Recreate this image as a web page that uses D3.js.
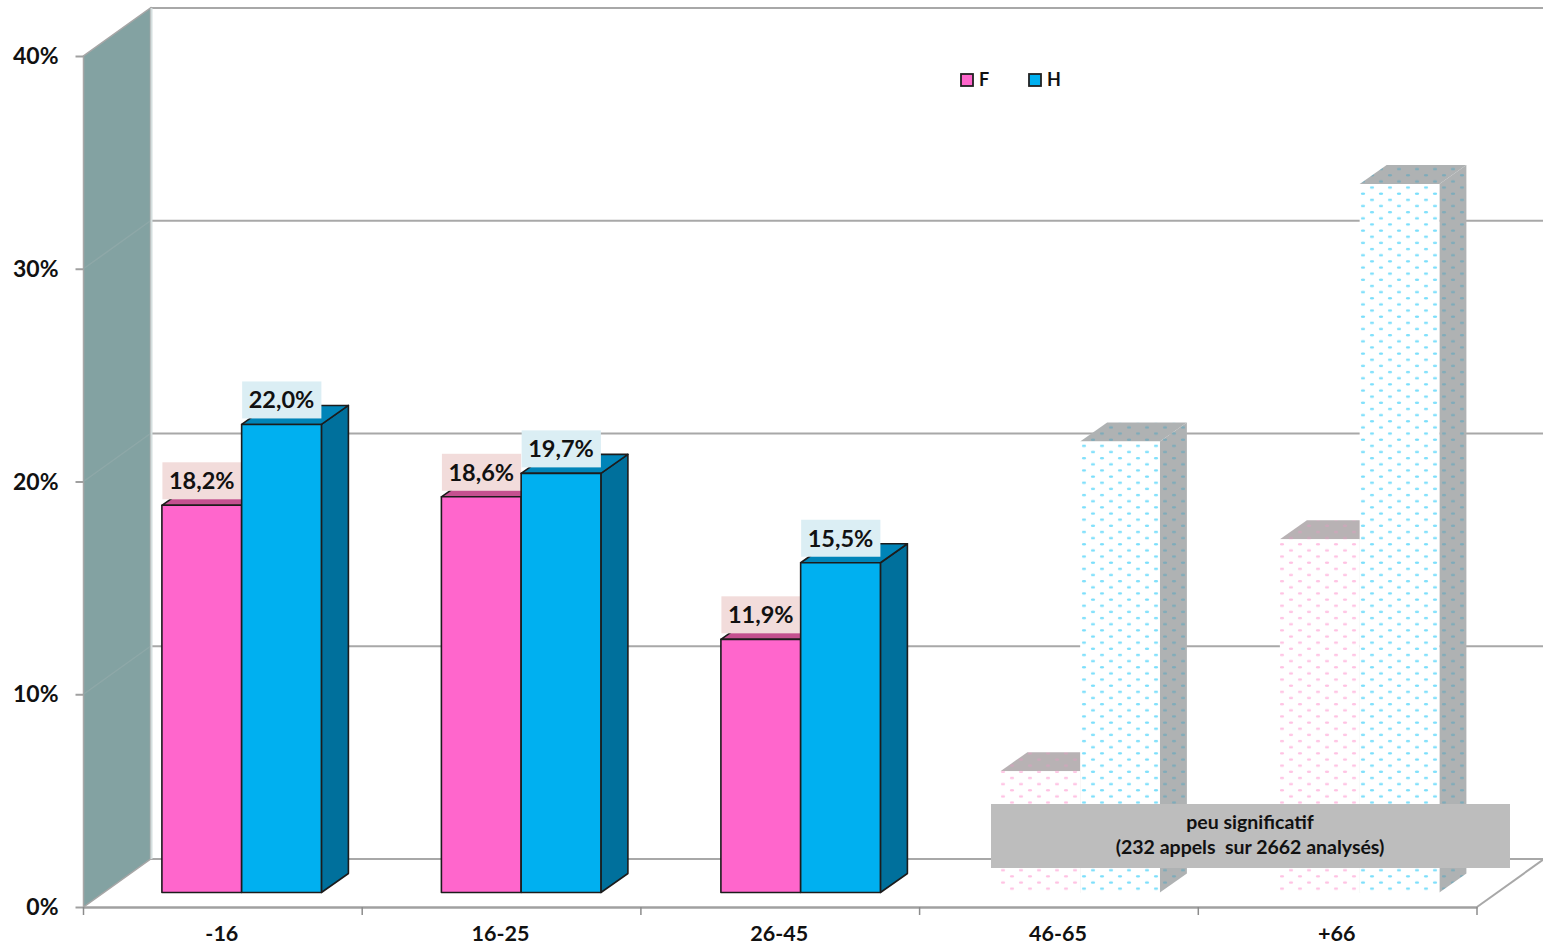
<!DOCTYPE html>
<html>
<head>
<meta charset="utf-8">
<script src="https://cdn.jsdelivr.net/npm/d3@7"></script>
<style>
html, body { margin: 0; padding: 0; background: #fff; }
svg { display: block; }
text { font-family: Lato, "Open Sans", sans-serif; font-weight: 700; fill: #111; }
</style>
</head>
<body>
<svg></svg>
<script>
const [WIDTH, HEIGHT] = [1543, 947]

const categories = ["-16", "16-25", "26-45", "46-65", "+66"]
const series = ["F", "H"]
const valuesF = [18.2, 18.6, 11.9, 5.7, 16.6]
const valuesH = [22.0, 19.7, 15.5, 21.2, 33.3]
const labelsF = ["18,2%", "18,6%", "11,9%", null, null]
const labelsH = ["22,0%", "19,7%", "15,5%", null, null]
const yTicks = [0, 10, 20, 30, 40]
const notSignificant = ["46-65", "+66"]
const noteLines = ["peu significatif", "(232 appels  sur 2662 analysés)"]

const colors = {
    F: { front: "#ff66cc", top: "#c4508f", label: "#f2dcdb", dot: "#ffb8de" },
    H: { front: "#00b0f0", top: "#0084b8", side: "#00709c", label: "#dbeef4", dot: "#6edcfb" }
}

const svg = d3.select("svg")
    .attr("width", WIDTH)
    .attr("height", HEIGHT)
    .attr("viewBox", "0 0 " + WIDTH + " " + HEIGHT)

// the chart is a fake 3D: a front plane plus an offset for walls and bars
const wallDx = 67, wallDy = -48
const barDx = 27, barDy = -19
const barShiftX = 18.4, barShiftY = -14.5

const x = d3.scaleBand().domain(categories).range([83.5, 1477])
// bars drift slightly wider than the axis ticks in the original
const xBars = d3.scaleBand().domain(categories).range([83.5, 83.5 + 5 * 279.5])
const y = d3.scaleLinear().domain([0, 40]).range([907, 56])
const inner = d3.scaleBand().domain(series).range([0, 159.5])

const defs = svg.append("defs")

function dotPattern(id, bg, dot, opacity) {
    const p = defs.append("pattern")
        .attr("id", id)
        .attr("patternUnits", "userSpaceOnUse")
        .attr("width", 18)
        .attr("height", 12.3)
    p.append("rect").attr("width", 18).attr("height", 12.3).attr("fill", bg)
    for (const [cx, cy] of [[4, 3], [13, 9.15]]) {
        p.append("ellipse")
            .attr("cx", cx).attr("cy", cy)
            .attr("rx", 2.2).attr("ry", 1.2)
            .attr("fill", dot).attr("opacity", opacity)
    }
}
dotPattern("front-F", "#fff", colors.F.dot, 0.85)
dotPattern("front-H", "#fff", colors.H.dot, 0.9)
dotPattern("side-F", "#b8b2b4", "#d8a0bc", 0.6)
dotPattern("side-H", "#afb2b3", "#6aa8bd", 0.7)

const line = d3.line()

// side wall
svg.append("path")
    .attr("d", line([[x.range()[0], y(0)], [x.range()[0], y(40)],
        [x.range()[0] + wallDx, y(40) + wallDy], [x.range()[0] + wallDx, y(0) + wallDy]]) + "Z")
    .attr("fill", "#83a2a2")
    .attr("stroke", "#a6a6a6")
    .attr("stroke-width", 1.5)

// gridlines on the wall and the back
const grid = svg.append("g").attr("fill", "none").attr("stroke", "#a8a8a8")
grid.selectAll(".back")
    .data(yTicks)
    .enter()
    .append("path")
    .attr("class", "back")
    .attr("stroke-width", 2)
    .attr("d", t => line([[x.range()[0] + wallDx, y(t) + wallDy], [WIDTH, y(t) + wallDy]]))
grid.selectAll(".slant")
    .data(yTicks.slice(1, 4))
    .enter()
    .append("path")
    .attr("class", "slant")
    .attr("stroke", "#8ea8a8")
    .attr("stroke-width", 1.5)
    .attr("d", t => line([[x.range()[0], y(t)], [x.range()[0] + wallDx, y(t) + wallDy]]))
grid.append("path")
    .attr("stroke", "#d4dede")
    .attr("stroke-width", 2)
    .attr("d", line([[x.range()[0] + wallDx + 1, y(40) + wallDy], [x.range()[0] + wallDx + 1, y(0) + wallDy]]))

// floor edge on the right
grid.append("path")
    .attr("stroke-width", 2)
    .attr("d", line([[x.range()[1], y(0)], [x.range()[1] + wallDx, y(0) + wallDy]]))

// bars
const barY = v => y(v) + barShiftY
const barsG = svg.append("g")

function drawBar(cat, key, v, label) {
    const faded = notSignificant.includes(cat)
    const c = colors[key]
    const x0 = xBars(cat) + xBars.bandwidth() / 2 + barShiftX - inner.range()[1] / 2 + inner(key)
    const x1 = x0 + inner.bandwidth()
    const y0 = barY(0), y1 = barY(v)
    const stroke = faded ? "none" : "#1c1c1c"
    const g = barsG.append("g").attr("stroke", stroke).attr("stroke-width", 1.6).attr("stroke-linejoin", "round")

    if (key === "H" || faded) {
        g.append("path")
            .attr("d", line([[x1, y1], [x1 + barDx, y1 + barDy], [x1 + barDx, y0 + barDy], [x1, y0]]) + "Z")
            .attr("fill", faded ? "url(#side-" + key + ")" : c.side)
    }
    g.append("path")
        .attr("d", line([[x0, y1], [x0 + barDx, y1 + barDy], [x1 + barDx, y1 + barDy], [x1, y1]]) + "Z")
        .attr("fill", faded ? "url(#side-" + key + ")" : c.top)
    g.append("rect")
        .attr("x", x0).attr("y", y1)
        .attr("width", x1 - x0).attr("height", y0 - y1)
        .attr("fill", faded ? "url(#front-" + key + ")" : c.front)

    if (label) {
        barsG.append("rect")
            .attr("x", x0 + 0.5).attr("y", y1 - 43)
            .attr("width", x1 - x0 - 0.5).attr("height", 37)
            .attr("fill", c.label)
        barsG.append("text")
            .attr("x", (x0 + x1) / 2).attr("y", y1 - 16)
            .attr("text-anchor", "middle")
            .attr("font-size", 23.5)
            .text(label)
    }
}

categories.forEach((cat, i) => {
    drawBar(cat, "F", valuesF[i], labelsF[i])
    drawBar(cat, "H", valuesH[i], labelsH[i])
})

// axes
const yAxis = d3.axisLeft(y).tickValues(yTicks).tickSize(8).tickPadding(17).tickFormat(d => d + "%")
const yG = svg.append("g").attr("transform", "translate(" + x.range()[0] + ",0)").call(yAxis)
yG.select(".domain").remove()
yG.selectAll("line").attr("stroke", "#a0a0a0").attr("stroke-width", 2)
yG.selectAll("text").attr("font-size", 23).attr("dy", "0.33em").style("font-family", "Lato").style("font-weight", 700)

const xAxis = d3.axisBottom(x).tickSize(0).tickPadding(19)
const xG = svg.append("g").attr("transform", "translate(0," + y(0) + ")").call(xAxis)
xG.select(".domain").attr("stroke", "#a0a0a0").attr("stroke-width", 2.5)
xG.selectAll("text").attr("font-size", 21.5).attr("dx", "-1").style("font-family", "Lato").style("font-weight", 700)
xG.selectAll(".edge")
    .data(x.domain().map(d => x(d)).concat(x.range()[1]))
    .enter()
    .append("line")
    .attr("class", "edge")
    .attr("x1", d => d).attr("x2", d => d)
    .attr("y1", 0).attr("y2", 8)
    .attr("stroke", "#8c8c8c")
    .attr("stroke-width", 1.5)

// legend
const legend = svg.append("g")
legend.selectAll("g")
    .data(series)
    .enter()
    .append("g")
    .attr("transform", (d, i) => "translate(" + (961 + i * 68) + ",74)")
    .call(g => {
        g.append("rect")
            .attr("width", 12).attr("height", 12)
            .attr("fill", d => colors[d].front)
            .attr("stroke", "#222").attr("stroke-width", 1.8)
        g.append("text")
            .attr("x", 18).attr("y", 12)
            .attr("font-size", 18)
            .text(d => d)
    })

// note box over the two weak categories
const note = svg.append("g")
note.append("rect")
    .attr("x", 991).attr("y", 804)
    .attr("width", 519).attr("height", 64)
    .attr("fill", "#bdbdbd")
note.selectAll("text")
    .data(noteLines)
    .enter()
    .append("text")
    .attr("x", 1250)
    .attr("y", (d, i) => 828.5 + i * 25)
    .attr("text-anchor", "middle")
    .attr("font-size", 19.5)
    .style("white-space", "pre")
    .text(d => d)
</script>
</body>
</html>
